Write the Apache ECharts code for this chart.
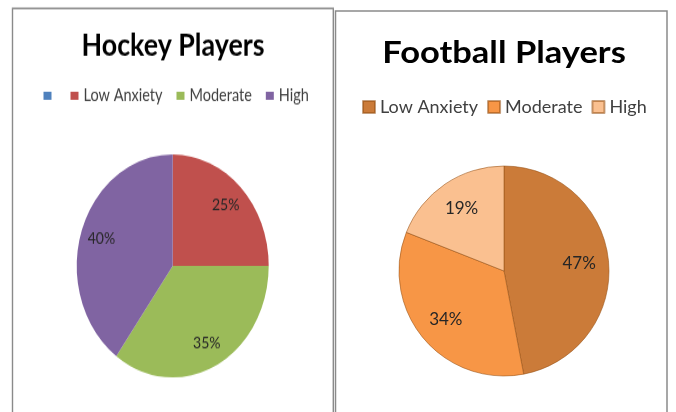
<!DOCTYPE html>
<html>
<head>
<meta charset="utf-8">
<script src="https://cdn.jsdelivr.net/npm/echarts@6/dist/echarts.min.js"></script>
<style>
  html, body { margin: 0; padding: 0; background: #fff; }
  #wrap { position: relative; width: 676px; height: 412px; overflow: hidden; }
  #main { position: absolute; left: 0; top: 0; width: 676px; height: 412px; }
  #left { position: absolute; left: 0; top: 0; width: 335px; height: 360px;
          transform-origin: 0 0; transform: scaleY(1.161); }
</style>
</head>
<body>
<div id="wrap">
  <div id="main"></div>
  <div id="left"></div>
</div>
<script>
// ---- data ----
const hockeyTitle = 'Hockey Players';
const hockeyCats = ['\u200b', 'Low Anxiety', 'Moderate', 'High'];
const hockeyValues = [0, 25, 35, 40];
const hockeyColors = ['#4f81bd', '#c0504d', '#9bbb59', '#8064a2'];

const footballTitle = 'Football Players';
const footballCats = ['Low Anxiety', 'Moderate', 'High'];
const footballValues = [47, 34, 19];
const footballColors = ['#cb7b39', '#f79646', '#fac090'];

const FONT = 'Lato, "Open Sans", sans-serif';

function pieData(cats, vals, colors) {
  return cats.map((c, i) => ({ name: c, value: vals[i], itemStyle: { color: colors[i] } }));
}
function labelData(cats, vals) {
  return cats.map((c, i) => ({
    name: c, value: vals[i],
    label: { show: vals[i] > 0 },
    itemStyle: { color: 'rgba(0,0,0,0)' }
  }));
}

// ---- right panel (football) + frame ----
const main = echarts.init(document.getElementById('main'), null, { renderer: 'canvas' });
main.setOption({
  animation: false,
  backgroundColor: '#ffffff',
  graphic: [
    { type: 'rect', silent: true, shape: { x: 335.5, y: 11, width: 331.5, height: 430 },
      style: { fill: 'none', stroke: '#8a8a8a', lineWidth: 1.5 } },
    { type: 'text', silent: true, x: 504, y: 53, scaleX: 1.15,
      style: { text: footballTitle, align: 'center', verticalAlign: 'middle',
               fontFamily: FONT, fontWeight: 'bold', fontSize: 30, fill: '#000' } }
  ],
  legend: {
    data: footballCats, left: 357, top: 93, icon: 'rect',
    itemWidth: 12, itemHeight: 12, itemGap: 9,
    textStyle: { fontFamily: FONT, fontSize: 18, color: '#404040' },
    selectedMode: false
  },
  series: [
    { type: 'pie', center: [504, 271], radius: 105, startAngle: 90, clockwise: true,
      silent: true, label: { show: false }, labelLine: { show: false },
      itemStyle: { borderColor: 'rgba(150,80,20,0.55)', borderWidth: 1 },
      data: pieData(footballCats, footballValues, footballColors) },
    { type: 'pie', center: [504, 271], radius: [40, 105], startAngle: 90, clockwise: true,
      silent: true, legendHoverLink: false,
      label: { position: 'inside', formatter: '{c}%', fontFamily: FONT, fontSize: 17, color: '#262626' },
      labelLine: { show: false },
      data: labelData(footballCats, footballValues) }
  ]
});

// ---- left panel (hockey), drawn stretched vertically like the original ----
const left = echarts.init(document.getElementById('left'), null, { renderer: 'canvas' });
left.setOption({
  animation: false,
  backgroundColor: 'transparent',
  graphic: [
    { type: 'rect', silent: true, shape: { x: 12.5, y: 7.2, width: 320.8, height: 400 },
      style: { fill: 'none', stroke: '#8a8a8a', lineWidth: 1.4 } },
    { type: 'text', silent: true, x: 173, y: 39.4,
      style: { text: hockeyTitle, align: 'center', verticalAlign: 'middle',
               fontFamily: FONT, fontWeight: 'bold', fontSize: 26.8, fill: '#000' } }
  ],
  legend: {
    data: hockeyCats, left: 38.5, top: 70, icon: 'rect',
    itemWidth: 8, itemHeight: 7, itemGap: 14,
    textStyle: { fontFamily: FONT, fontSize: 14.5, color: '#404040' },
    selectedMode: false
  },
  series: [
    { type: 'pie', center: [172.7, 229.1], radius: 96, startAngle: 90, clockwise: true,
      silent: true, label: { show: false }, labelLine: { show: false },
      data: pieData(hockeyCats, hockeyValues, hockeyColors) },
    { type: 'pie', center: [172.7, 229.1], radius: [48, 96], startAngle: 90, clockwise: true,
      silent: true, legendHoverLink: false,
      label: { position: 'inside', formatter: '{c}%', fontFamily: FONT, fontSize: 14, color: '#262626' },
      labelLine: { show: false },
      data: labelData(hockeyCats, hockeyValues) }
  ]
});
</script>
</body>
</html>
